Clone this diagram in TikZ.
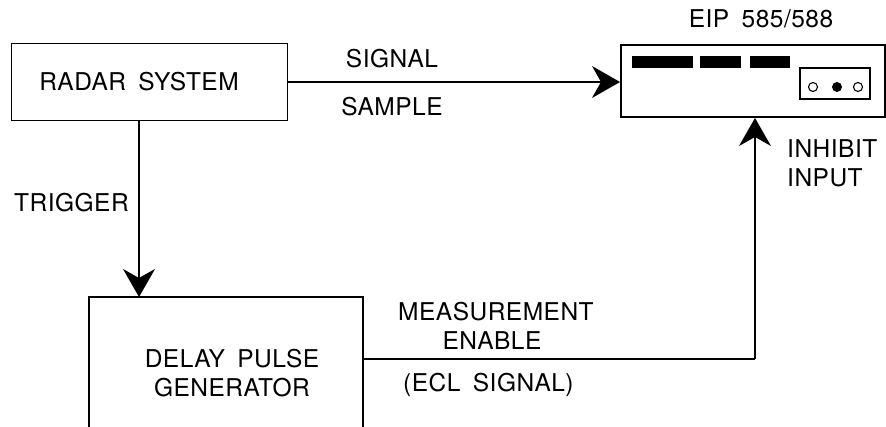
\documentclass[tikz,border=0pt]{standalone}
\usepackage{fontspec}
\setmainfont{TeX Gyre Heros}[LetterSpace=2, WordSpace=1.7]
\usetikzlibrary{arrows.meta}
\begin{document}
\begin{tikzpicture}[x=1pt,y=-1pt,
  lbl/.style={font=\fontsize{24.5}{31}\selectfont, inner sep=0pt},
  blk/.style={draw, line width=1.4pt},
  wire/.style={line width=1.1pt, -{Stealth[length=28pt,width=32pt,inset=9pt]}},
  plain/.style={line width=1.1pt}]
\useasboundingbox (0,0) rectangle (886,427);
\clip (0,0) rectangle (886,427);

% radar system block
\node[blk, minimum width=276pt, minimum height=77pt, anchor=north west,
      inner sep=0pt] (radar) at (11,43) {};
\node[lbl] (radart) at (139,82) {RADAR SYSTEM};

% EIP 585/588 counter, front panel sketch
\node[blk, line width=2pt, minimum width=264pt, minimum height=72pt,
      anchor=north west, inner sep=0pt] (eip) at (620,44) {};
\node[lbl] (eipt) at (761,19) {EIP 585/588};
\fill (632,56) rectangle (693,68);
\fill (700,56) rectangle (741,68);
\fill (750,56) rectangle (790,68);
\draw[line width=1.2pt] (800,68) rectangle (870,99);
\draw[line width=1.1pt] (813,87) circle (4.5);
\fill (837,87) circle (5);
\draw[line width=1.1pt] (858,87) circle (4.5);

% delay pulse generator (continues below the lower edge)
\draw[blk] (89,440) -- (89,297) -- (363,297) -- (363,440);
\coordinate (dpgin) at (139,297);
\coordinate (dpgout) at (363,359);
\node[lbl, align=center] (dpgt) at (232,373) {DELAY PULSE\\[-2pt]GENERATOR};

% signal sample
\draw[wire] (radar.east |- 0,82) -- (eip.west |- 0,82);
\node[lbl] (sig) at (392,59) {SIGNAL};
\node[lbl] (smp) at (392,107) {SAMPLE};

% trigger
\draw[wire] (radar.south -| dpgin) -- (dpgin);
\node[lbl, anchor=west] (trg) at (14,203) {TRIGGER};

% measurement enable into inhibit input
\coordinate (bend) at (755,359);
\draw[plain] (dpgout) -- (bend);
\draw[wire] (bend) -- (eip.south -| bend);
\node[lbl, anchor=west] (meas) at (398,312) {MEASUREMENT};
\node[lbl] (ena) at (492,341) {ENABLE};
\node[lbl, anchor=west] (ecl) at (403,385) {(ECL SIGNAL)};
\node[lbl, anchor=west] (inh) at (787,149) {INHIBIT};
\node[lbl, anchor=west] (inp) at (787,178) {INPUT};
\end{tikzpicture}
\end{document}
